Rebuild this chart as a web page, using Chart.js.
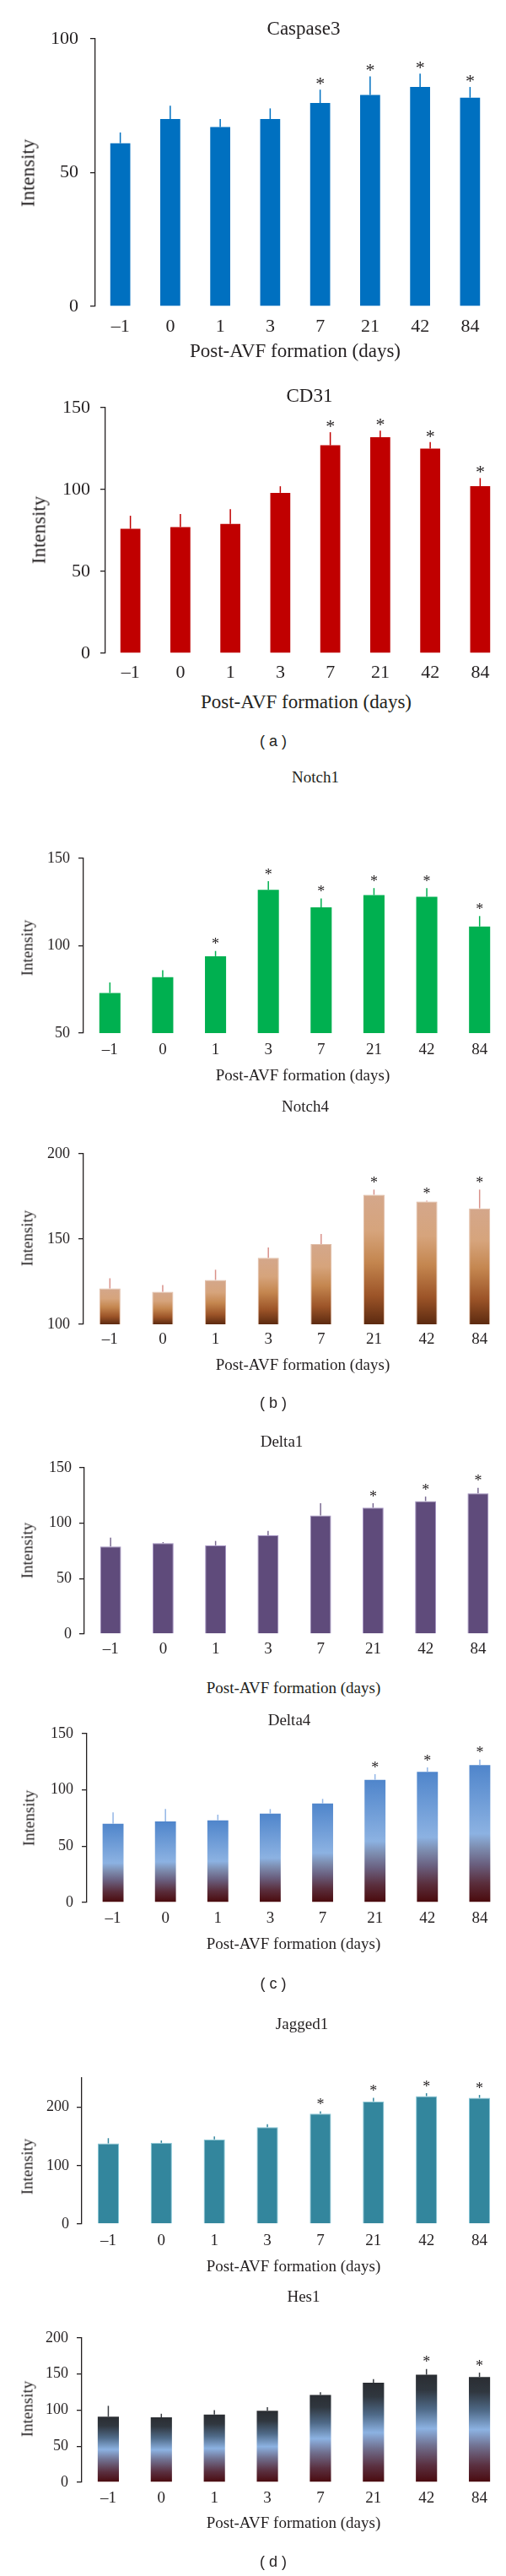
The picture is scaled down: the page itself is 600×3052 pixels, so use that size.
<!DOCTYPE html>
<html>
<head>
<meta charset="utf-8">
<script src="https://cdn.jsdelivr.net/npm/chart.js@4.4.1/dist/chart.umd.min.js"></script>
<style>
  body { margin: 0; width: 600px; height: 3052px; background: #fff; position: relative; overflow: hidden; }
  canvas { position: absolute; left: 0; }
  .txt { position: absolute; font-family: "Liberation Serif", "DejaVu Serif", serif; color: #231f20;
         white-space: nowrap; line-height: 1; transform: translate(-50%, -50%); }
  .rot { transform: translate(-50%, -50%) rotate(-90deg); }
  .panel { font-family: "Liberation Sans", Arial, sans-serif; }
</style>
</head>
<body>
<script>
// x categories: days after AVF formation
const days = ['–1', '0', '1', '3', '7', '21', '42', '84'];

// (a)
const caspase3 = [61, 70, 67, 70, 76, 79, 82, 78];
const caspase3Sd = [4, 5, 3, 4, 5, 7, 5, 4];
const caspase3Sig = [0, 0, 0, 0, 1, 1, 1, 1];
const caspase3Ticks = [0, 50, 100];

const cd31 = [76, 77, 79, 98, 127, 132, 125, 102];
const cd31Sd = [8, 8, 9, 4, 8, 4, 4, 5];
const cd31Sig = [0, 0, 0, 0, 1, 1, 1, 1];
const cd31Ticks = [0, 50, 100, 150];

// (b)
const notch1 = [73, 82, 94, 132, 122, 129, 128, 111];
const notch1Sd = [6, 4, 3, 5, 5, 4, 5, 6];
const notch1Sig = [0, 0, 1, 1, 1, 1, 1, 1];
const notch1Ticks = [50, 100, 150];

const notch4 = [121, 119, 126, 139, 147, 176, 172, 168];
const notch4Sd = [6, 4, 6, 6, 6, 3, 0.5, 11];
const notch4Sig = [0, 0, 0, 0, 0, 1, 1, 1];
const notch4Ticks = [100, 150, 200];

// (c)
const delta1 = [79, 82, 80, 89, 107, 114, 120, 127];
const delta1Sd = [8, 1, 4, 4, 11, 4, 4, 5];
const delta1Sig = [0, 0, 0, 0, 0, 1, 1, 1];
const delta1Ticks = [0, 50, 100, 150];

const delta4 = [70, 72, 73, 79, 88, 109, 116, 122];
const delta4Sd = [10, 11, 5, 4, 4, 5, 4, 5];
const delta4Sig = [0, 0, 0, 0, 0, 1, 1, 1];
const delta4Ticks = [0, 50, 100, 150];

// (d)
const jagged1 = [138, 139, 145, 166, 189, 210, 219, 216];
const jagged1Sd = [9, 4, 5, 5, 4, 6, 5, 5];
const jagged1Sig = [0, 0, 0, 0, 1, 1, 1, 1];
const jagged1Ticks = [0, 100, 200];

const hes1 = [91, 90, 94, 99, 121, 138, 149, 146];
const hes1Sd = [15, 5, 6, 5, 4, 5, 8, 6];
const hes1Sig = [0, 0, 0, 0, 0, 0, 1, 1];
const hes1Ticks = [0, 50, 100, 150, 200];

const SERIF = '"Liberation Serif", "DejaVu Serif", serif';
const INK = '#231f20';

// vertical gradient running from each bar's top down to the axis floor
function barGradient(stops) {
  return (c) => {
    const chart = c.chart, y = chart.scales.y;
    if (!chart.chartArea || !y || c.raw == null) return stops[0][1];
    const top = y.getPixelForValue(c.raw), bot = y.getPixelForValue(y.min);
    const g = chart.ctx.createLinearGradient(0, top, 0, bot);
    stops.forEach(s => g.addColorStop(s[0], s[1]));
    return g;
  };
}

// error bars (upper half only) and significance stars
const errStars = {
  id: 'errStars',
  afterDatasetsDraw(chart, args, opts) {
    const { ctx } = chart, y = chart.scales.y;
    const meta = chart.getDatasetMeta(0);
    const vals = chart.data.datasets[0].data;
    ctx.save();
    ctx.strokeStyle = opts.color;
    ctx.lineWidth = 1.5;
    ctx.fillStyle = INK;
    ctx.font = opts.starSize + 'px ' + SERIF;
    ctx.textAlign = 'center';
    ctx.textBaseline = 'alphabetic';
    meta.data.forEach((bar, i) => {
      const top = y.getPixelForValue(vals[i] + opts.sd[i]);
      ctx.beginPath();
      ctx.moveTo(bar.x, bar.y);
      ctx.lineTo(bar.x, top);
      ctx.stroke();
      if (opts.sig[i]) ctx.fillText('*', bar.x, top - 12 + 0.54 * opts.starSize);
    });
    ctx.restore();
  }
};

function text(str, x, y, size, cls) {
  const d = document.createElement('div');
  d.className = 'txt ' + (cls || '');
  d.textContent = str;
  d.style.left = x + 'px';
  d.style.top = y + 'px';
  d.style.fontSize = size + 'px';
  document.body.appendChild(d);
}

function drawPanel(p) {
  const padTop = 30, axisH = 44;
  const cv = document.createElement('canvas');
  cv.width = 600;
  cv.height = p.bottom - p.top + padTop + axisH;
  cv.style.top = (p.top - padTop) + 'px';
  document.body.appendChild(cv);

  new Chart(cv, {
    type: 'bar',
    data: {
      labels: days,
      datasets: [{
        data: p.values,
        backgroundColor: p.fill,
        borderColor: p.edge || 'rgba(0,0,0,0)',
        borderWidth: p.edge ? { top: 1, left: 1, right: 1, bottom: 0 } : 0,
        barPercentage: 0.4,
        categoryPercentage: 1
      }]
    },
    options: {
      responsive: false,
      animation: false,
      devicePixelRatio: 1,
      layout: { padding: { top: padTop, right: 600 - p.right, left: 0, bottom: 0 } },
      plugins: {
        legend: { display: false },
        tooltip: { enabled: false },
        errStars: { sd: p.sd, sig: p.sig, color: p.err, starSize: p.star }
      },
      scales: {
        x: {
          grid: { display: false, drawTicks: false },
          border: { display: false },
          ticks: { color: INK, font: { family: SERIF, size: p.xfs }, padding: p.xpad, maxRotation: 0 },
          afterFit: s => { s.height = axisH; }
        },
        y: {
          min: p.range[0],
          max: p.range[1],
          afterBuildTicks: s => { s.ticks = p.ticks.map(v => ({ value: v })); },
          grid: { drawOnChartArea: false, tickLength: 6, color: INK, lineWidth: 1.3 },
          border: { display: true, color: INK, width: 1.3 },
          ticks: { color: INK, font: { family: SERIF, size: p.yfs }, padding: p.ypad },
          afterFit: s => { s.width = p.left; }
        }
      }
    },
    plugins: [errStars]
  });

  text(p.title, p.titleX, p.titleY, p.tfs);
  text('Post-AVF formation (days)', p.xlX, p.xlY, p.lfs);
  text('Intensity', p.ylX, p.ylY, p.lfs, 'rot');
}

const notch4Fill = [[0, '#d4a78b'], [0.28, '#d6a47c'], [0.52, '#c4864f'], [0.78, '#9c5428'], [1, '#5c2a10']];
const delta4Fill = [[0, '#4f85cb'], [0.5, '#8cb2e2'], [0.6, '#7d8db0'], [0.72, '#6a6080'], [0.86, '#5a2e3c'], [1, '#4a090b']];
const hes1Fill = [[0, '#2a2d32'], [0.14, '#30373f'], [0.32, '#4f6a88'], [0.5, '#8cb2e2'], [0.66, '#706f8e'], [0.84, '#5a3040'], [1, '#4a0a0e']];

drawPanel({ title: 'Caspase3', titleX: 360, titleY: 33, values: caspase3, sd: caspase3Sd, sig: caspase3Sig,
  ticks: caspase3Ticks, range: [0, 100], top: 46, bottom: 363, left: 113, right: 587,
  fill: '#0070c0', err: '#0070c0', star: 22, xfs: 22, yfs: 22, xpad: 11, ypad: 14, tfs: 23, lfs: 23,
  xlX: 350, xlY: 415, ylX: 33, ylY: 205 });

drawPanel({ title: 'CD31', titleX: 367, titleY: 468, values: cd31, sd: cd31Sd, sig: cd31Sig,
  ticks: cd31Ticks, range: [0, 150], top: 483, bottom: 774, left: 125, right: 599,
  fill: '#c00000', err: '#c00000', star: 22, xfs: 22, yfs: 22, xpad: 10, ypad: 12, tfs: 23, lfs: 23,
  xlX: 363, xlY: 831, ylX: 46, ylY: 628 });
text('( a )', 324, 878, 18, 'panel');

drawPanel({ title: 'Notch1', titleX: 374, titleY: 920, values: notch1, sd: notch1Sd, sig: notch1Sig,
  ticks: notch1Ticks, range: [50, 150], top: 1017, bottom: 1224, left: 99, right: 600,
  fill: '#00b050', err: '#00b050', star: 18, xfs: 19, yfs: 18, xpad: 9, ypad: 10, tfs: 19, lfs: 19,
  xlX: 359, xlY: 1273, ylX: 32, ylY: 1123 });

drawPanel({ title: 'Notch4', titleX: 362, titleY: 1310, values: notch4, sd: notch4Sd, sig: notch4Sig,
  ticks: notch4Ticks, range: [100, 200], top: 1367, bottom: 1569, left: 99, right: 600,
  fill: barGradient(notch4Fill), edge: '#e0bba4', err: '#d9918a', star: 18, xfs: 19, yfs: 18, xpad: 7, ypad: 10, tfs: 19, lfs: 19,
  xlX: 359, xlY: 1616, ylX: 32, ylY: 1467 });
text('( b )', 324, 1662, 18, 'panel');

drawPanel({ title: 'Delta1', titleX: 334, titleY: 1707, values: delta1, sd: delta1Sd, sig: delta1Sig,
  ticks: delta1Ticks, range: [0, 150], top: 1739, bottom: 1936, left: 100, right: 598,
  fill: '#5f4b7b', edge: '#a493c2', err: '#7a6a92', star: 18, xfs: 19, yfs: 18, xpad: 7, ypad: 9, tfs: 19, lfs: 19,
  xlX: 348, xlY: 1999, ylX: 32, ylY: 1837 });

drawPanel({ title: 'Delta4', titleX: 343, titleY: 2037, values: delta4, sd: delta4Sd, sig: delta4Sig,
  ticks: delta4Ticks, range: [0, 150], top: 2054, bottom: 2254, left: 103, right: 600,
  fill: barGradient(delta4Fill), err: '#93b6e6', star: 18, xfs: 19, yfs: 18, xpad: 8, ypad: 10, tfs: 19, lfs: 19,
  xlX: 348, xlY: 2302, ylX: 34, ylY: 2154 });
text('( c )', 324, 2350, 18, 'panel');

drawPanel({ title: 'Jagged1', titleX: 358, titleY: 2397, values: jagged1, sd: jagged1Sd, sig: jagged1Sig,
  ticks: jagged1Ticks, range: [0, 250], top: 2462, bottom: 2635, left: 97, right: 600,
  fill: '#33869d', edge: '#86c6d6', err: '#33869d', star: 18, xfs: 19, yfs: 18, xpad: 9, ypad: 9, tfs: 19, lfs: 19,
  xlX: 348, xlY: 2684, ylX: 32, ylY: 2567 });

drawPanel({ title: 'Hes1', titleX: 360, titleY: 2720, values: hes1, sd: hes1Sd, sig: hes1Sig,
  ticks: hes1Ticks, range: [0, 200], top: 2770, bottom: 2941, left: 97, right: 600,
  fill: barGradient(hes1Fill), err: '#3a3d42', star: 18, xfs: 19, yfs: 18, xpad: 8, ypad: 10, tfs: 19, lfs: 19,
  xlX: 348, xlY: 2988, ylX: 32, ylY: 2854 });
text('( d )', 324, 3035, 18, 'panel');
</script>
</body>
</html>
